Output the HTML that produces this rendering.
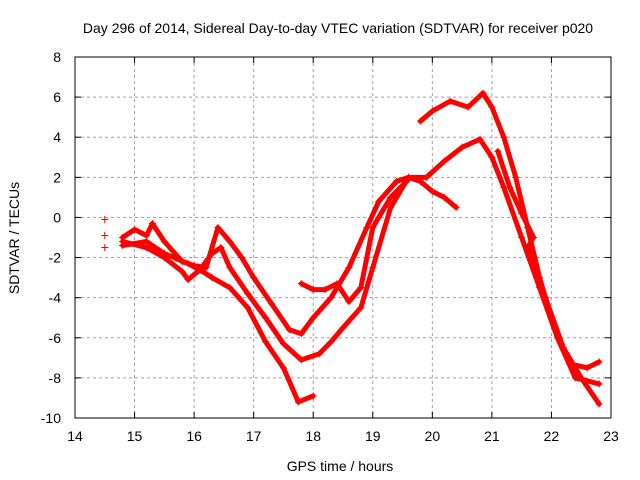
<!DOCTYPE html>
<html><head><meta charset="utf-8"><style>
body{margin:0;background:#fff}
svg{display:block;font-family:"Liberation Sans",sans-serif;font-size:14px}
</style></head><body>
<svg id="c" width="640" height="480" xmlns="http://www.w3.org/2000/svg">
<text x="338" y="33" text-anchor="middle">Day 296 of 2014, Sidereal Day-to-day VTEC variation (SDTVAR) for receiver p020</text>
<text x="340" y="471" text-anchor="middle">GPS time / hours</text>
<text transform="translate(19,238) rotate(-90)" text-anchor="middle">SDTVAR / TECUs</text>
<g id="grid"></g><g id="ticks"></g><g id="marks"></g>
<rect x="75" y="57" width="536" height="361" fill="none" stroke="#000"/>
</svg>
<script>
const xTicks=[14,15,16,17,18,19,20,21,22,23];
const yTicks=[8,6,4,2,0,-2,-4,-6,-8,-10];
const track1=[[14.8,-1.0],[15.0,-0.6],[15.2,-0.9],[15.3,-0.3],[15.5,-1.2],[15.8,-2.2],[16.0,-2.4],[16.2,-2.5],[16.4,-0.5],[16.6,-1.2],[16.8,-2.0],[17.0,-3.0],[17.3,-4.3],[17.6,-5.6],[17.8,-5.8],[18.0,-5.0],[18.3,-4.0],[18.6,-2.5],[18.9,-0.5],[19.1,0.8],[19.4,1.8],[19.6,2.0],[19.8,1.8],[20.0,1.3],[20.2,1.0],[20.4,0.5]];
const track2=[[14.8,-1.2],[15.2,-1.5],[15.5,-2.0],[15.8,-2.7],[15.9,-3.1],[16.1,-2.6],[16.3,-1.8],[16.45,-1.5],[16.6,-2.5],[16.9,-3.8],[17.2,-5.0],[17.5,-6.3],[17.8,-7.1],[18.1,-6.8],[18.3,-6.2],[18.5,-5.5],[18.8,-4.5],[19.0,-2.5],[19.3,0.5],[19.6,2.0],[19.9,2.0],[20.2,2.8],[20.5,3.5],[20.8,3.9],[21.0,3.0],[21.2,1.5],[21.5,-1.0],[21.8,-3.5],[22.1,-6.0],[22.4,-8.0],[22.8,-8.3]];
const track3=[[14.8,-1.4],[15.2,-1.2],[15.5,-1.8],[15.9,-2.3],[16.2,-2.8],[16.3,-3.0],[16.6,-3.5],[16.9,-4.5],[17.2,-6.2],[17.5,-7.5],[17.75,-9.2],[18.0,-8.9]];
const track4=[[17.8,-3.3],[18.0,-3.6],[18.2,-3.6],[18.4,-3.3],[18.6,-4.2],[18.8,-3.5],[19.0,-0.5],[19.3,1.0],[19.6,1.9]];
const track5=[[19.8,4.8],[20.0,5.3],[20.3,5.8],[20.6,5.5],[20.85,6.2],[21.0,5.5],[21.2,4.0],[21.4,2.0],[21.6,-0.5],[21.8,-3.0],[22.0,-5.0],[22.3,-7.3],[22.6,-7.5],[22.8,-7.2]];
const track6=[[21.1,3.3],[21.3,1.5],[21.5,0.2],[21.7,-1.0],[21.6,-1.5],[21.9,-4.0],[22.2,-6.5],[22.5,-8.0],[22.8,-9.3]];
const loners=[[14.5,-0.1],[14.5,-0.9],[14.5,-1.5]];
const tracks=[track1,track2,track3,track4,track5,track6];
const X=v=>75+(v-14)*536/9, Y=v=>57+(8-v)*361/18;
const NS="http://www.w3.org/2000/svg";
function mk(t,a,p){const e=document.createElementNS(NS,t);for(const k in a)e.setAttribute(k,a[k]);p.appendChild(e);return e;}
const g=document.getElementById('grid'),tk=document.getElementById('ticks'),m=document.getElementById('marks');
xTicks.forEach(v=>{const x=X(v);
 if(v>14&&v<23){const l=mk('line',{x1:x,x2:x,y1:57,y2:418,stroke:'#a0a0a0','stroke-dasharray':'3,3'},g);}
 mk('line',{x1:x,x2:x,y1:418,y2:412,stroke:'#000'},tk);mk('line',{x1:x,x2:x,y1:57,y2:63,stroke:'#000'},tk);
 const t=mk('text',{x:x,y:441,'text-anchor':'middle'},tk);t.textContent=v;});
yTicks.forEach(v=>{const y=Y(v);
 if(v<8&&v>-10){const l=mk('line',{x1:75,x2:611,y1:y,y2:y,stroke:'#a0a0a0','stroke-dasharray':'3,3'},g);}
 mk('line',{x1:75,x2:81,y1:y,y2:y,stroke:'#000'},tk);mk('line',{x1:611,x2:605,y1:y,y2:y,stroke:'#000'},tk);
 const t=mk('text',{x:61,y:y+5,'text-anchor':'end'},tk);t.textContent=v;});
function plus(x,y){const p=mk('path',{d:`M${x-3.5},${y}h7M${x},${y-3.5}v7`,stroke:'#f00','stroke-width':1},m);}
tracks.forEach(tr=>{
 const pl=mk('polyline',{points:tr.map(p=>X(p[0])+','+Y(p[1])).join(' '),fill:'none',stroke:'#f00','stroke-width':5,'stroke-linejoin':'round','stroke-linecap':'round'},m);
 
 
 tr.forEach(p=>plus(X(p[0]),Y(p[1])));});
loners.forEach(p=>plus(X(p[0]),Y(p[1])));
</script>
</body></html>
